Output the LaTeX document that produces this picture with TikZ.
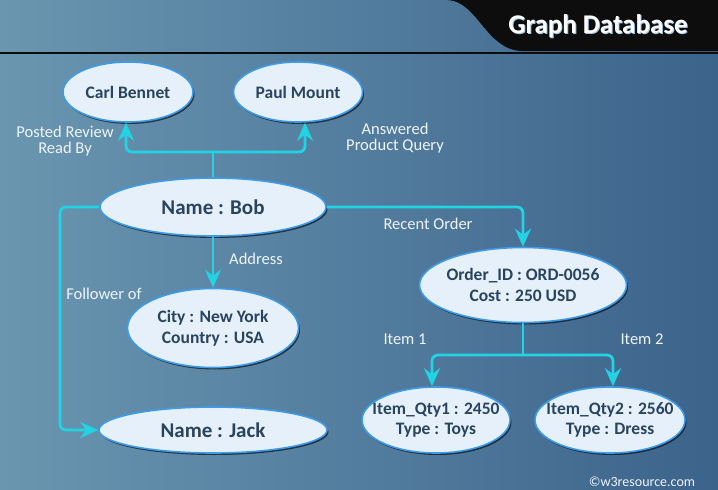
\documentclass[tikz,border=0pt]{standalone}
\usepackage{fontspec}
\setmainfont{Carlito}
\usetikzlibrary{arrows.meta,shapes.geometric,shadows,calc}
\definecolor{bgL}{HTML}{6A96B0}
\definecolor{bgR}{HTML}{3C638B}
\definecolor{nodefill}{HTML}{E6F0FB}
\definecolor{nodeedge}{HTML}{3D9BE9}
\definecolor{nodetext}{HTML}{28445F}
\definecolor{conn}{HTML}{22D3E4}
\definecolor{lbl}{HTML}{EEF4FA}
\definecolor{titleglow}{HTML}{9EC3E6}
\begin{document}
\begin{tikzpicture}[x=1pt,y=-1pt,
  ent/.style={ellipse, draw=nodeedge, line width=1.6pt, fill=nodefill, inner sep=0pt,
    drop shadow={shadow xshift=1.5pt, shadow yshift=-2pt, fill=black, opacity=0.6}},
  etext/.style={text=nodetext, font=\fontsize{17.5}{20.5}\selectfont\bfseries, align=center, inner sep=0pt},
  ebig/.style={text=nodetext, font=\fontsize{21}{24}\selectfont\bfseries, align=center, inner sep=0pt},
  link/.style={draw=conn, line width=2.8pt, rounded corners=6pt, -{Stealth[length=18pt,width=16pt,inset=6pt]}},
  lab/.style={text=lbl, font=\fontsize{16.5}{16.5}\selectfont, align=center, inner sep=0pt}]
\useasboundingbox (0,0) rectangle (718,490);
% background
\shade[left color=bgL, right color=bgR] (0,0) rectangle (718,490);
% title band
\fill[black!95] (448,0) .. controls (478,2) and (486,50) .. (522,51) -- (718,51) -- (718,0) -- cycle;
\fill[black!95] (0,51.5) rectangle (718,53.5);
\node[font=\fontsize{27}{30}\selectfont\bfseries, text=titleglow] (titleG) at (599,27.5) {Graph Database};
\node[font=\fontsize{27}{30}\selectfont\bfseries, text=white] (title) at (598,26.5) {Graph Database};

% entity ellipses
\node[ent, minimum width=130pt, minimum height=60pt] (carl) at (128,92) {};
\node[etext] (carlT) at (carl) {Carl Bennet};
\node[ent, minimum width=129pt, minimum height=60pt] (paul) at (298,92) {};
\node[etext] (paulT) at (paul) {Paul Mount};
\node[ent, minimum width=226pt, minimum height=58pt] (bob) at (213,207) {};
\node[ebig] (bobT) at (bob) {Name : Bob};
\node[ent, minimum width=171pt, minimum height=79pt] (city) at (213,328) {};
\node[etext] (cityT) at (city) {City : New York\\Country : USA};
\node[ent, minimum width=228pt, minimum height=46pt] (jack) at (213,430) {};
\node[ebig] (jackT) at (jack) {Name : Jack};
\node[ent, minimum width=207pt, minimum height=75pt] (order) at (523,285) {};
\node[etext] (orderT) at (order) {Order\_ID : ORD-0056\\Cost : 250 USD};
\node[ent, minimum width=148pt, minimum height=66pt] (item1) at (436,420) {};
\node[etext] (item1T) at (item1) {Item\_Qty1 : 2450\\Type : Toys};
\node[ent, minimum width=150pt, minimum height=66pt] (item2) at (610,420) {};
\node[etext] (item2T) at (item2) {Item\_Qty2 : 2560\\Type : Dress};

% connectors
\coordinate (jtop) at (213,152);
\draw[draw=conn, line width=2.8pt] (bob.north) -- (jtop);
\draw[link] (jtop) -| ($(carl.south)+(-2,0)$);
\draw[link] (jtop) -| ($(paul.south)+(7,0)$);
\draw[link] (bob.east) -| (order.north);
\draw[link] (bob.south) -- (city.north);
\coordinate (jleft) at (60,207);
\draw[link] (bob.west) -- (jleft) |- (jack.west);
\coordinate (jord) at (523,355);
\draw[draw=conn, line width=2.8pt] (order.south) -- (jord);
\draw[link] (jord) -| ($(item1.north)+(-4,0)$);
\draw[link] (jord) -| ($(item2.north)+(3,0)$);

% labels
\node[lab] (lposted) at (65,141) {Posted Review\\Read By};
\node[lab] (lanswered) at (395,138) {Answered\\Product Query};
\node[lab] (lrecent) at (428,224) {Recent Order};
\node[lab] (laddress) at (256,259) {Address};
\node[lab] (lfollower) at (104,294) {Follower of};
\node[lab] (litem1) at (405,339) {Item 1};
\node[lab] (litem2) at (642,339) {Item 2};
\node[lab, font=\fontsize{14}{14}\selectfont] (lcopy) at (642,482) {©w3resource.com};
\end{tikzpicture}
\end{document}
